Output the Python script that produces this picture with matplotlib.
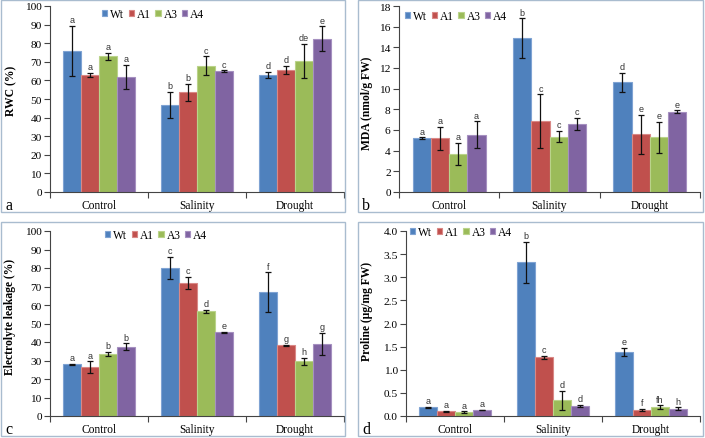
import matplotlib
matplotlib.use("Agg")
import matplotlib.pyplot as plt
from matplotlib.patches import Rectangle
import numpy as np

categories = ["Control", "Salinity", "Drought"]
series = ["Wt", "A1", "A3", "A4"]
colors = ["#4F81BD", "#C0504D", "#9BBB59", "#8064A2"]
edges = ["#7FA3D3", "#D98886", "#BAD38A", "#A590C0"]

# Panel a: RWC (%)  -- rows are series (Wt, A1, A3, A4), columns categories
rwc = [[76, 47, 63], [63, 53.5, 65.5], [73, 68, 70.5], [62, 65, 82.5]]
rwc_err = [[13.5, 7, 1.5], [1, 4.5, 2.2], [2, 5, 9], [6.5, 0.5, 6.5]]
rwc_lab = [["a", "b", "d"], ["a", "b", "d"], ["a", "c", "de"], ["a", "c", "e"]]

# Panel b: MDA (nmol/g FW)
mda = [[5.2, 14.9, 10.6], [5.2, 6.85, 5.6], [3.7, 5.35, 5.3], [5.55, 6.6, 7.75]]
mda_err = [[0.1, 1.9, 0.9], [1.1, 2.6, 1.9], [1.05, 0.55, 1.5], [1.3, 0.6, 0.15]]
mda_lab = [["a", "b", "d"], ["a", "c", "e"], ["a", "c", "e"], ["a", "c", "e"]]

# Panel c: Electrolyte leakage (%)
el = [[28, 80, 67], [26.5, 72, 38.2], [33.5, 56.5, 29.5], [37.5, 45.2, 39]]
el_err = [[0.3, 6, 10.7], [3, 3.3, 0.3], [1.3, 0.8, 2], [1.8, 0.4, 6]]
el_lab = [["a", "c", "f"], ["a", "c", "g"], ["b", "d", "h"], ["b", "e", "g"]]

# Panel d: Proline (ug/mg FW)
pro = [[0.19, 3.32, 1.38], [0.10, 1.27, 0.13], [0.08, 0.34, 0.19], [0.13, 0.22, 0.16]]
pro_err = [[0.01, 0.45, 0.09], [0.01, 0.03, 0.03], [0.02, 0.21, 0.04], [0.01, 0.02, 0.03]]
pro_lab = [["a", "b", "e"], ["a", "c", "f"], ["a", "d", "fh"], ["a", "d", "h"]]

W, H = 705, 439
fig = plt.figure(figsize=(W / 100, H / 100), dpi=100)
SERIF = "Liberation Serif"
SANS = "Liberation Sans"


def fx(px):
    return px / W


def fy(py):
    return 1 - py / H


def make_axes(l, r, t, b):
    return fig.add_axes([fx(l), fy(b), fx(r) - fx(l), fy(t) - fy(b)])


# panel borders
for (x0, y0, x1, y1) in [(1, 1, 345, 213), (358, 1, 703, 213), (1, 223, 345, 437), (358, 223, 703, 437)]:
    fig.add_artist(Rectangle((fx(x0), fy(y1)), fx(x1) - fx(x0), fy(y0) - fy(y1),
                             transform=fig.transFigure, fill=False, edgecolor="#A9BCCF", lw=1.0))


def panel(ax, vals, errs, labs, ymax, ystep, ylabel, fmt, leg_xy, letter, letter_xy, lab_xy):
    n = len(series)
    bw = 1 / (n + 1.5)
    x = np.arange(len(categories)) + 0.5
    for i in range(n):
        pos = x + (i - (n - 1) / 2) * bw
        ax.bar(pos, vals[i], width=bw, color=colors[i], edgecolor=edges[i], linewidth=0.8,
               label=series[i], zorder=2)
        ax.errorbar(pos, vals[i], yerr=errs[i], fmt="none", ecolor="#111111", elinewidth=0.9,
                    capsize=2.3, capthick=0.9, zorder=3)
        for j in range(len(categories)):
            ax.annotate(labs[i][j], (pos[j], vals[i][j] + errs[i][j]), xytext=(0, 1.2),
                        textcoords="offset points", ha="center", va="bottom",
                        fontsize=6.5, family=SANS, color="#333333")
    ax.set_xlim(0, 3)
    ax.set_ylim(0, ymax)
    ax.set_yticks(np.arange(0, ymax + ystep / 2, ystep))
    ax.yaxis.set_major_formatter(plt.FormatStrFormatter(fmt))
    ax.set_xticks(x)
    ax.set_xticklabels(categories, family=SERIF, fontsize=8.3)
    ax.set_xticks([0, 1, 2, 3], minor=True)
    ax.tick_params(axis="x", which="major", length=0, pad=5)
    ax.tick_params(axis="x", which="minor", length=4, width=0.8, color="#444444")
    ax.tick_params(axis="y", length=4, width=0.8, color="#444444", labelsize=8.2, pad=2)
    for t in ax.get_yticklabels():
        t.set_family(SERIF)
    for s in ["top", "right"]:
        ax.spines[s].set_visible(False)
    for s in ["left", "bottom"]:
        ax.spines[s].set_color("#444444")
        ax.spines[s].set_linewidth(0.8)
    ax.set_ylabel(ylabel, family=SERIF, fontsize=8.4, fontweight="bold")
    ax.yaxis.set_label_coords(*lab_xy)
    ax.legend(loc="center left", bbox_to_anchor=(fx(leg_xy[0]), fy(leg_xy[1])),
              bbox_transform=fig.transFigure, ncol=4, frameon=False,
              prop={"family": SERIF, "size": 8.3}, handlelength=0.45, handleheight=0.45,
              handletextpad=0.27, columnspacing=0.38, borderpad=0, borderaxespad=0)
    fig.text(fx(letter_xy[0]), fy(letter_xy[1]), letter, family=SERIF, fontsize=11.5,
             ha="left", va="center")


axa = make_axes(50, 344, 7, 193)
panel(axa, rwc, rwc_err, rwc_lab, 100, 10, "RWC (%)", "%d", (102, 15), "a", (5, 206),
      (-0.112, 0.548))

axb = make_axes(399, 700, 7, 193)
panel(axb, mda, mda_err, mda_lab, 18, 2, "MDA (nmol/g FW)", "%d", (405, 17), "b", (362, 206),
      (-0.086, 0.484))

axc = make_axes(50, 344, 232, 417)
panel(axc, el, el_err, el_lab, 100, 10, "Electrolyte leakage (%)", "%d", (105, 236), "c", (5, 430),
      (-0.116, 0.54))

axd = make_axes(406, 700, 232, 417)
panel(axd, pro, pro_err, pro_lab, 4.0, 0.5, "Proline (\u00b5g/mg FW)", "%.1f", (410, 233), "d", (362, 430),
      (-0.112, 0.57))

fig.savefig("out.png", dpi=100)
